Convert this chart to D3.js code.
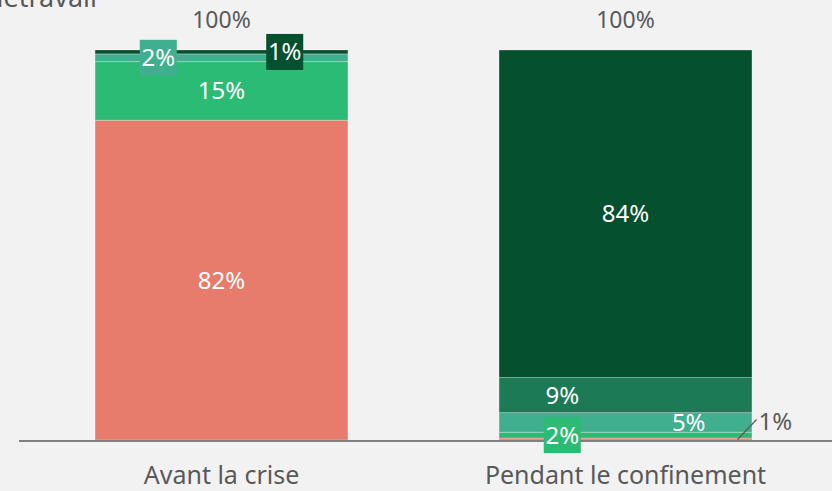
<!DOCTYPE html>
<html>
<head>
<meta charset="utf-8">
<script src="https://cdn.jsdelivr.net/npm/d3@7"></script>
<style>
  body { margin: 0; background: #f2f2f2; }
  svg { display: block; font-family: "Noto Sans", sans-serif; }
</style>
</head>
<body>
<svg id="chart" width="832" height="491"></svg>
<script>
// bars and stacked series (bottom to top), in %
var categories = ['Avant la crise', 'Pendant le confinement'];
var series = ['0 jour', '1 jour', '2 jours', '3-4 jours', '5 jours'];
var values = {
  '0 jour':    [82, 0.5],
  '1 jour':    [15, 1.5],
  '2 jours':   [2, 5],
  '3-4 jours': [0, 9],
  '5 jours':   [1, 84]
};
var totals = [100, 100];

var colors = ['#e77c6c', '#2bbb74', '#40af90', '#1c7a56', '#04502f'];
// label shifted left (-1) / right (+1) of bar centre by a quarter width
var labelShift = [[0, 0, -1, 0, 1], [0, -1, 1, -1, 0]];

var svg = d3.select('#chart'),
    width = 832,
    height = 491;

var x = d3.scaleBand()
    .domain(categories)
    .range([19.5, 827.5])
    .paddingInner(0.374)
    .paddingOuter(0.187);

var y = d3.scaleLinear()
    .domain([0, 100])
    .range([440, 50]);

var rows = categories.map(function (c, i) {
  var r = {cat: c};
  series.forEach(function (s) { r[s] = values[s][i]; });
  return r;
});
var stacked = d3.stack().keys(series)(rows);

// title (partly out of view)
svg.append('text')
    .attr('x', 97).attr('y', 7)
    .attr('text-anchor', 'end')
    .attr('fill', '#595959')
    .style('font-size', '27px')
    .text('Télétravail');

// bars
var layer = svg.selectAll('g.layer').data(stacked).enter()
  .append('g').attr('class', 'layer')
  .attr('fill', function (d, i) { return colors[i]; });

layer.selectAll('rect').data(function (d) { return d; }).enter()
  .append('rect')
    .attr('x', function (d) { return x(d.data.cat); })
    .attr('width', x.bandwidth())
    .attr('y', function (d) { return y(d[1]); })
    .attr('height', function (d) { return y(d[0]) - y(d[1]); })
    .attr('stroke', 'rgba(255,255,255,0.35)')
    .attr('stroke-width', 0.8);

// axis line
svg.append('line')
    .attr('x1', 19).attr('x2', width)
    .attr('y1', 441).attr('y2', 441)
    .attr('stroke', '#808080').attr('stroke-width', 2);

// category labels
svg.selectAll('text.cat').data(categories).enter()
  .append('text').attr('class', 'cat')
    .attr('x', function (d) { return x(d) + x.bandwidth() / 2; })
    .attr('y', 484)
    .attr('text-anchor', 'middle')
    .attr('fill', '#595959')
    .style('font-size', '25px')
    .text(function (d) { return d; });

// totals
svg.selectAll('text.total').data(totals).enter()
  .append('text').attr('class', 'total')
    .attr('x', function (d, i) { return x(categories[i]) + x.bandwidth() / 2; })
    .attr('y', 28)
    .attr('text-anchor', 'middle')
    .attr('fill', '#595959')
    .style('font-size', '23px')
    .text(function (d) { return d + '%'; });

// segment labels
var fmt = function (v) { return Math.round(v) + '%'; };
stacked.forEach(function (s, si) {
  s.forEach(function (d, ci) {
    var v = d[1] - d[0];
    if (v <= 0) return;
    var cx = x(d.data.cat) + x.bandwidth() / 2 + labelShift[ci][si] * x.bandwidth() / 4,
        cy = y((d[0] + d[1]) / 2);

    if (v < 1) {
      // callout outside the bar
      var x0 = x(d.data.cat) + x.bandwidth() * 0.943, y0 = y(d[0]) - 0.5;
      svg.append('line')
          .attr('x1', x0).attr('y1', y0)
          .attr('x2', x0 + 19).attr('y2', y0 - 20)
          .attr('stroke', '#595959').attr('stroke-width', 1.2);
      svg.append('text')
          .attr('x', x0 + 21).attr('y', y0 - 10)
          .attr('fill', '#595959')
          .style('font-size', '24px')
          .text(fmt(v));
      return;
    }
    var g = svg.append('g').attr('transform', 'translate(' + cx + ',' + cy + ')');
    if (v < 3) {
      g.append('rect')
          .attr('x', -18.5).attr('y', -18)
          .attr('width', 37).attr('height', 36)
          .attr('fill', colors[si]);
    }
    g.append('text')
        .attr('text-anchor', 'middle')
        .attr('dy', '0.35em')
        .attr('fill', '#fff')
        .style('font-size', '24px')
        .text(fmt(v));
  });
});
</script>
</body>
</html>
